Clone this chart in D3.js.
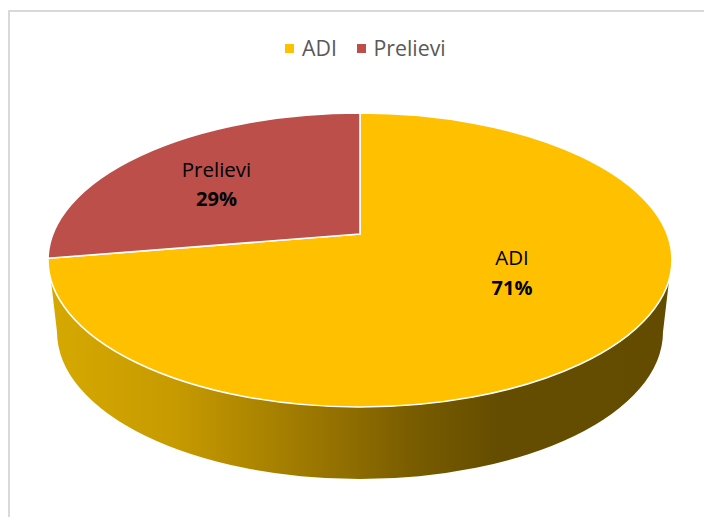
<!DOCTYPE html>
<html><head><meta charset="utf-8">
<script src="https://cdn.jsdelivr.net/npm/d3@7/dist/d3.min.js"></script>
<style>html,body{margin:0;padding:0;background:#fff}svg{display:block}</style>
</head><body><svg id="c" width="704" height="517"></svg>
<script>
const categories = ["ADI", "Prelievi"];
const shares = [71, 29];
const labels = ["71%", "29%"];
const colours = ["#FFC000", "#BD4F4B"];

const svg = d3.select("#c");
const font = "'Open Sans', sans-serif";

// frame
svg.append("path").attr("d","M9,517V11H704").attr("fill","none").attr("stroke","#d9d9d9").attr("stroke-width",2);

// geometry of the tilted disc
const cx = 360, face = {cy:260, rx:312, ry:147}, base = {cy:332, rx:303, ry:147}, apexY = 234, joinY = 280;

// perspective: map a pie angle (0 = up, clockwise) to the screen
const near = 407 - apexY, far = apexY - 113;
const k = (near - far) / (near + far);
const Ry = near * (1 - k), Rx = face.rx * Math.sqrt(1 - k * k);
function project(a) {
  const u = Math.sin(a), v = -Math.cos(a), w = 1 - k * v;
  return [cx + Rx * u / w, apexY + Ry * v / w];
}
// Excel's 3-D view foreshortens the small slice a little
const view = d3.scaleLinear().domain([0, 2*Math.PI*0.71, 2*Math.PI]).range([0, 2*Math.PI*0.7235, 2*Math.PI]);

const slices = d3.pie().sort(null).value(d => d)(shares);

const defs = svg.append("defs");
const grad = defs.append("linearGradient").attr("id","side").attr("gradientUnits","userSpaceOnUse")
  .attr("x1",48).attr("x2",672).attr("y1",0).attr("y2",0);
[[0,"#d6a900"],[0.2,"#c79b00"],[0.45,"#967300"],[0.58,"#7a5d00"],[0.72,"#654d00"],[1,"#634c00"]]
  .forEach(([o,c]) => grad.append("stop").attr("offset",o).attr("stop-color",c));

// side wall
const xTop = face.rx * Math.sqrt(1 - ((joinY - face.cy) / face.ry) ** 2);
svg.append("path").attr("d",
  `M${cx-xTop},${joinY} L${cx-base.rx},${base.cy} A${base.rx},${base.ry} 0 0 0 ${cx+base.rx},${base.cy} L${cx+xTop},${joinY} ` +
  `A${face.rx},${face.ry} 0 0 1 ${cx-xTop},${joinY} Z`).attr("fill","url(#side)");

// top face slices
const sectors = slices.map((s, i) => {
  const a0 = view(s.startAngle), a1 = view(s.endAngle);
  const p0 = project(a0), p1 = project(a1);
  const large = (a1 - a0) > Math.PI ? 1 : 0;
  return {i, d:`M${cx},${apexY} L${p0[0]},${p0[1]} A${face.rx},${face.ry} 0 ${large} 1 ${p1[0]},${p1[1]} Z`};
});
svg.selectAll("path.slice").data(sectors).join("path").attr("class","slice")
  .attr("d", d => d.d).attr("fill", d => colours[d.i])
  .attr("stroke","#fff").attr("stroke-width",1.6).attr("stroke-linejoin","round");

// data labels
const labelPos = [[512, 265, 295], [216.5, 177, 206]];
categories.forEach((c, i) => {
  svg.append("text").attr("x",labelPos[i][0]).attr("y",labelPos[i][1]).attr("text-anchor","middle")
    .attr("font-family",font).attr("font-size",20.5).attr("fill","#000").text(c);
  svg.append("text").attr("x",labelPos[i][0]).attr("y",labelPos[i][2]).attr("text-anchor","middle")
    .attr("font-family",font).attr("font-size",20).attr("font-weight",700).attr("fill","#000").text(labels[i]);
});

// legend
const legendX = [[285, 302], [357, 373.5]];
categories.forEach((c, i) => {
  svg.append("rect").attr("x",legendX[i][0]).attr("y",44).attr("width",9).attr("height",9).attr("fill",colours[i]);
  svg.append("text").attr("x",legendX[i][1]).attr("y",56).attr("font-family",font).attr("font-size",21.3)
    .attr("fill","#595959").text(c);
});
</script></body></html>
